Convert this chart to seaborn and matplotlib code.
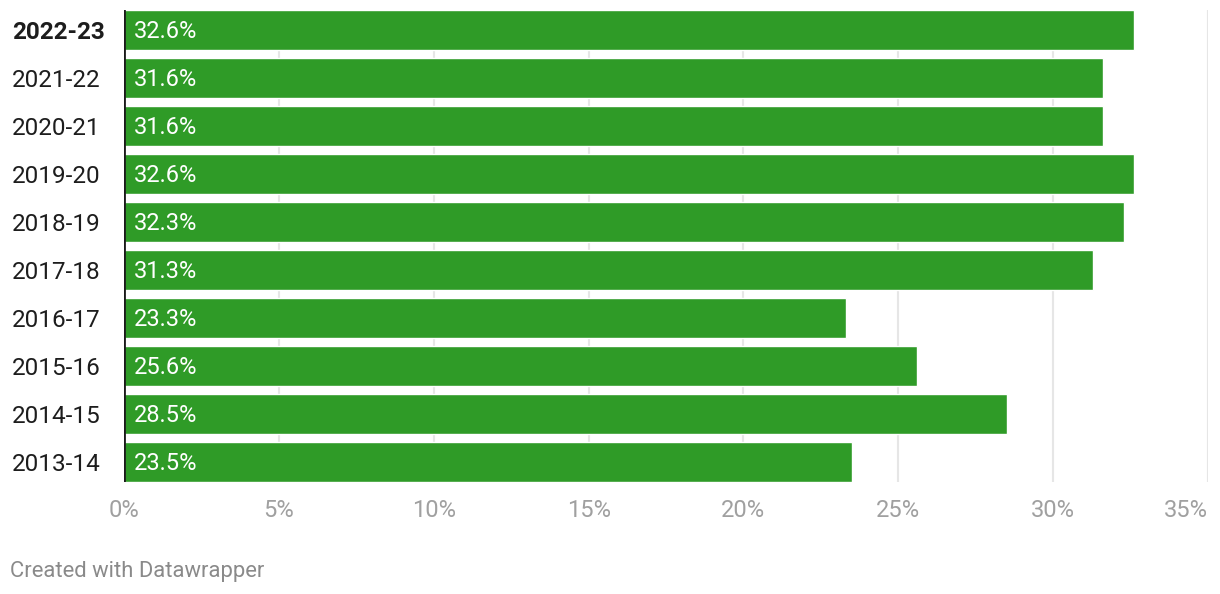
import matplotlib
matplotlib.use("Agg")
import matplotlib.pyplot as plt
import seaborn as sns
import pandas as pd

# === Datos ===
seasons = ["2022-23", "2021-22", "2020-21", "2019-20", "2018-19",
           "2017-18", "2016-17", "2015-16", "2014-15", "2013-14"]
shares = [32.6, 31.6, 31.6, 32.6, 32.3, 31.3, 23.3, 25.6, 28.5, 23.5]
x_ticks = [0, 5, 10, 15, 20, 25, 30, 35]

df = pd.DataFrame({"season": seasons, "share": shares})

sns.set_theme(style="white")
plt.rcParams["font.family"] = ["Roboto", "DejaVu Sans"]

W, H = 1220, 594
fig = plt.figure(figsize=(W / 100, H / 100), dpi=100)
ax = fig.add_axes([124 / W, 1 - 482 / H, (1208 - 124) / W, (482 - 10) / H])

bar_h = 40 / 48
sns.barplot(data=df, x="share", y="season", order=seasons, orient="h",
            color="#2f9b27", saturation=1, width=bar_h, ax=ax, zorder=2)

ax.set_xlim(0, 35)
ax.set_ylim(len(seasons) - 1 + bar_h / 2, -bar_h / 2)

# === Rejilla ===
for t in x_ticks[1:]:
    ax.axvline(t, color="#e6e6e6", lw=1.5, zorder=0)
ax.axvline(0, color="#1a1a1a", lw=2, zorder=3)

for s in ax.spines.values():
    s.set_visible(False)

ax.set_xticks(x_ticks)
ax.set_xticklabels([f"{t}%" for t in x_ticks], color="#a0a0a0", fontsize=17)
ax.get_xticklabels()[-1].set_ha("right")
ax.tick_params(axis="x", length=0, pad=12)
ax.set_xlabel("")
ax.set_ylabel("")

ax.set_yticks(range(len(seasons)))
ax.set_yticklabels(seasons, fontsize=17.5, color="#1d1d1d")
ax.tick_params(axis="y", length=0, pad=112 * 72 / 100)
for i, lab in enumerate(ax.get_yticklabels()):
    lab.set_ha("left")
    if i == 0:
        lab.set_fontweight("bold")

# === Etiquetas de valor ===
for i, v in enumerate(shares):
    ax.text(0.33, i + 0.04, f"{v}%", color="white", fontsize=17,
            va="center", ha="left", zorder=4)

fig.text(10 / W, 1 - 571 / H, "Created with Datawrapper", color="#8a8a8a",
         fontsize=15.8, va="center", ha="left")

fig.savefig("out.png", dpi=100)
